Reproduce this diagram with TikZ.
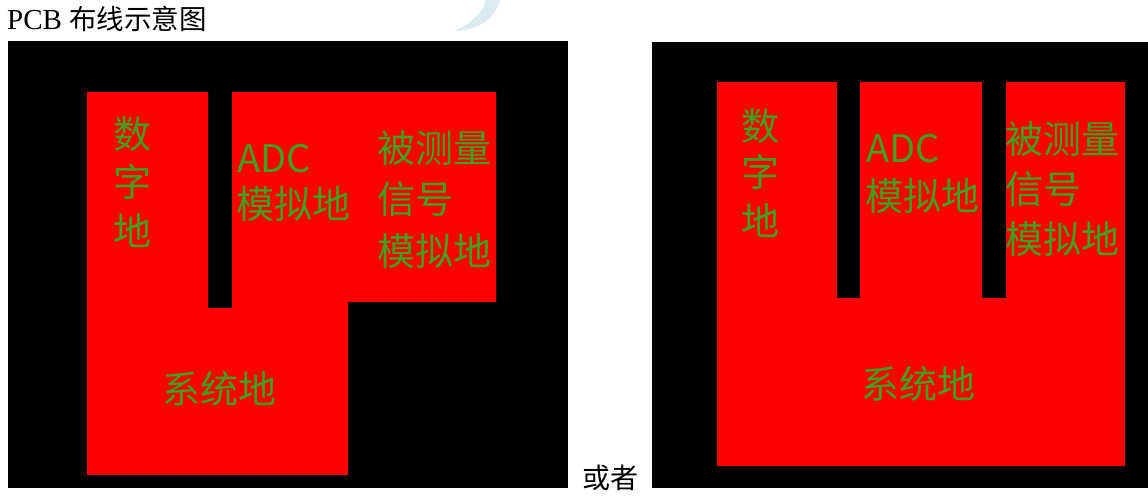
\documentclass[tikz,border=0pt]{standalone}
\usepackage{fontspec}
\setmainfont{Liberation Serif}
\newfontfamily\cjk{Noto Sans CJK SC}
\definecolor{pcbred}{RGB}{255,0,0}
\definecolor{lblgreen}{RGB}{64,160,32}
\definecolor{wm}{RGB}{218,236,242}
\begin{document}
\begin{tikzpicture}[x=1pt,y=-1pt,
  board/.style={fill=black},
  copper/.style={fill=pcbred},
  lbl/.style={anchor=base west, inner sep=0pt, text=lblgreen, font=\cjk\fontsize{38}{38}\selectfont},
  capt/.style={anchor=base west, inner sep=0pt, text=black, font=\fontsize{28}{28}\selectfont}]
\useasboundingbox (0,0) rectangle (1148,496);
% watermark fragment
\fill[wm] (500,0) .. controls (494,20) and (478,30) .. (455,31)
          .. controls (470,24) and (482,14) .. (486,0) -- cycle;
% title
\node[capt] (title) at (7,29) {\fontsize{29}{29}\selectfont PCB {\cjk\fontsize{27.5}{28}\selectfont 布线示意图}};
% left board
\fill[board] (8,41) rectangle (568,488);
\fill[copper] (87,92) -- (208,92) -- (208,308) -- (232,308) -- (232,92) -- (496,92)
  -- (496,302) -- (348,302) -- (348,475) -- (87,475) -- cycle;
\node[lbl] (ls1) at (113,148) {数};
\node[lbl] (ls2) at (113,196) {字};
\node[lbl] (ls3) at (113,245) {地};
\node[lbl] (ladc) at (237,172) {ADC};
\node[lbl] (ladc2) at (236,218) {模拟地};
\node[lbl] (lm1) at (377,162) {被测量};
\node[lbl] (lm2) at (377,213) {信号};
\node[lbl] (lm3) at (377,265) {模拟地};
\node[lbl] (lsys) at (162,403) {系统地};
% separator text
\node[capt] (or) at (582,488) {\cjk 或者};
% right board
\fill[board] (652,42) rectangle (1148,488);
\fill[copper] (717,82) -- (837,82) -- (837,298) -- (860,298) -- (860,82) -- (982,82)
  -- (982,298) -- (1006,298) -- (1006,82) -- (1125,82) -- (1125,466) -- (717,466) -- cycle;
\node[lbl] (rs1) at (741,140) {数};
\node[lbl] (rs2) at (741,186) {字};
\node[lbl] (rs3) at (741,235) {地};
\node[lbl] (radc) at (866,162) {ADC};
\node[lbl] (radc2) at (865,210) {模拟地};
\node[lbl] (rm1) at (1005,153) {被测量};
\node[lbl] (rm2) at (1005,203) {信号};
\node[lbl] (rm3) at (1005,253) {模拟地};
\node[lbl] (rsys) at (861,398) {系统地};
\end{tikzpicture}
\end{document}
